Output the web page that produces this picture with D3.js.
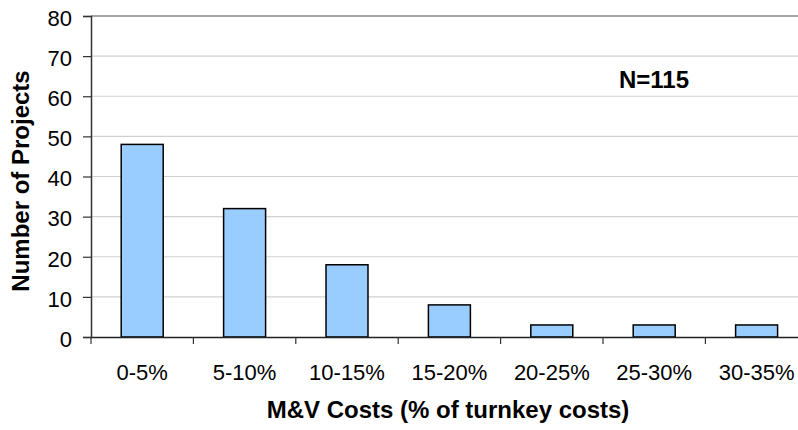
<!DOCTYPE html>
<html><head><meta charset="utf-8">
<script src="https://cdn.jsdelivr.net/npm/d3@7"></script>
<style>body{margin:0;background:#fff}svg{display:block}text{font-family:"Liberation Sans",Arial,sans-serif;fill:#000}</style>
</head><body>
<svg id="c" width="798" height="430"></svg>
<script>
const categories = ["0-5%","5-10%","10-15%","15-20%","20-25%","25-30%","30-35%"];
const projects = [48,32,18,8,3,3,3];
const yTicks = [0,10,20,30,40,50,60,70,80];

(function(){
const svg = d3.select("#c");
const pLeft = 91, pRight = 91 + 7*102.4, pTop = 16, pBottom = 337;
const x = d3.scaleBand().domain(categories).range([pLeft, pRight]).padding(0);
const y = d3.scaleLinear().domain([0,80]).range([pBottom, pTop]);

// gridlines
svg.append("g").selectAll("line").data(yTicks.filter(d=>d>0)).join("line")
  .attr("x1", pLeft).attr("x2", pRight)
  .attr("y1", d=>y(d)).attr("y2", d=>y(d))
  .attr("stroke", d=>d===80?"#888":"#d0d0d0").attr("stroke-width", d=>d===80?1.5:1.2);

// y axis
const ya = svg.append("g").attr("transform",`translate(${pLeft},0)`)
  .call(d3.axisLeft(y).tickValues(yTicks).tickSize(8).tickPadding(11));
ya.select(".domain").attr("stroke","#333").attr("stroke-width",1.5);
ya.selectAll(".tick line").attr("stroke","#333").attr("stroke-width",1.2);
ya.selectAll("text").attr("font-size",22).attr("dy","0.42em").attr("font-family","Liberation Sans, Arial, sans-serif").attr("fill","#000");

// bars
const bw = x.bandwidth()*0.41;
svg.append("g").selectAll("rect").data(projects).join("rect")
  .attr("x",(d,i)=>x(categories[i]) + x.bandwidth()/2 - bw/2)
  .attr("width",bw)
  .attr("y",d=>y(d)).attr("height",d=>y(0)-y(d))
  .attr("fill","#99ccff").attr("stroke","#000").attr("stroke-width",1.5);

// x axis
const xa = svg.append("g").attr("transform",`translate(0,${pBottom})`)
  .call(d3.axisBottom(x).tickSize(0).tickPadding(27));
xa.select(".domain").attr("stroke","#222").attr("stroke-width",1.5);
xa.selectAll("text").attr("font-size",22).attr("font-family","Liberation Sans, Arial, sans-serif").attr("fill","#000");
// boundary tick marks
const bounds = categories.map(c=>x(c)).concat([pRight]);
svg.append("g").selectAll("line").data(bounds).join("line")
  .attr("x1",d=>d).attr("x2",d=>d).attr("y1",pBottom).attr("y2",pBottom+7)
  .attr("stroke","#333").attr("stroke-width",1.2);

// titles
svg.append("text").attr("x",448).attr("y",418).attr("text-anchor","middle")
  .attr("font-size",24).attr("font-weight","bold").text("M&V Costs (% of turnkey costs)");
svg.append("text").attr("transform","translate(29,181) rotate(-90)").attr("text-anchor","middle")
  .attr("font-size",24).attr("font-weight","bold").text("Number of Projects");
svg.append("text").attr("x",619).attr("y",88)
  .attr("font-size",24).attr("font-weight","bold").text("N=115");
})();
</script>
</body></html>
